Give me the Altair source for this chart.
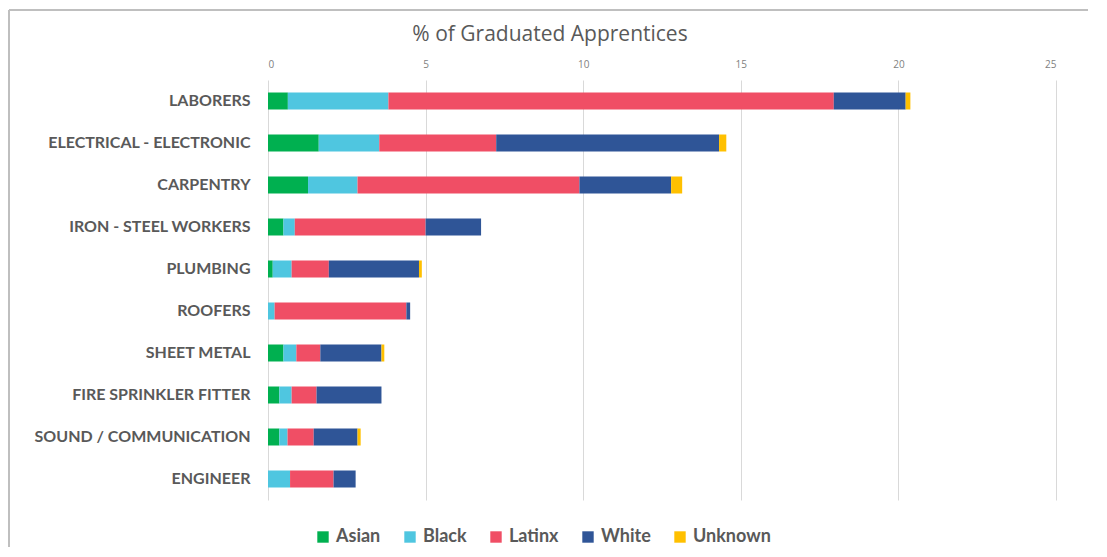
import altair as alt
import pandas as pd

trades = ["LABORERS", "ELECTRICAL - ELECTRONIC", "CARPENTRY", "IRON - STEEL WORKERS",
          "PLUMBING", "ROOFERS", "SHEET METAL", "FIRE SPRINKLER FITTER",
          "SOUND / COMMUNICATION", "ENGINEER"]
groups = ["Asian", "Black", "Latinx", "White", "Unknown"]
colors = ["#00B050", "#4FC6E0", "#F04E65", "#2F5597", "#FFC000"]

asian   = [0.63, 1.61, 1.27, 0.49, 0.15, 0.00, 0.49, 0.36, 0.36, 0.00]
black   = [3.19, 1.92, 1.57, 0.36, 0.60, 0.21, 0.41, 0.39, 0.26, 0.70]
latinx  = [14.13, 3.71, 7.04, 4.15, 1.18, 4.18, 0.76, 0.79, 0.83, 1.38]
white   = [2.28, 7.07, 2.91, 1.76, 2.86, 0.12, 1.94, 2.06, 1.39, 0.70]
unknown = [0.15, 0.23, 0.35, 0.00, 0.09, 0.00, 0.09, 0.00, 0.10, 0.00]

series = {"Asian": asian, "Black": black, "Latinx": latinx, "White": white, "Unknown": unknown}
rows = []
for g in groups:
    for t, v in zip(trades, series[g]):
        rows.append({"Trade": t, "Group": g, "Value": v, "Order": groups.index(g)})
df = pd.DataFrame(rows)

bars = alt.Chart(df).mark_bar(size=17).encode(
    y=alt.Y("Trade:N", sort=trades, title=None,
            axis=alt.Axis(labelFont="Lato", labelFontWeight="bold", labelFontSize=16,
                          labelColor="#595959", labelPadding=18, ticks=False, domain=False,
                          labelLimit=400)),
    x=alt.X("Value:Q", stack="zero", title=None,
            scale=alt.Scale(domain=[0, 25], nice=False),
            axis=alt.Axis(orient="top", values=[0, 5, 10, 15, 20, 25], labelFont="Open Sans",
                          labelFontSize=10, labelColor="#7F7F7F", labelPadding=11,
                          ticks=False, domain=False, gridColor="#D9D9D9", gridWidth=1)),
    color=alt.Color("Group:N", sort=groups,
                    scale=alt.Scale(domain=groups, range=colors),
                    legend=alt.Legend(title=None, orient="none", direction="horizontal",
                                      legendX=46, legendY=448, symbolType="square",
                                      symbolSize=130, symbolStrokeWidth=0,
                                      labelFont="Lato", labelFontWeight="bold",
                                      labelFontSize=18, labelColor="#595959",
                                      columnPadding=20, symbolOpacity=1)),
    order=alt.Order("Order:Q"),
)

top_border = alt.Chart(df).mark_rule(color="#BFBFBF", strokeWidth=2, clip=False).encode(
    x=alt.value(-259), x2=alt.value(820), y=alt.value(-70)
)
left_border = alt.Chart(df).mark_rule(color="#BFBFBF", strokeWidth=2, clip=False).encode(
    x=alt.value(-259), y=alt.value(-70), y2=alt.value(470)
)

chart = alt.layer(bars, top_border, left_border).properties(
    width=788, height=420,
    title=alt.TitleParams("% of Graduated Apprentices", font="Open Sans", fontSize=21,
                          fontWeight="normal", color="#595959", dx=-112, offset=-36),
    autosize=alt.AutoSizeParams(type="none"),
    padding={"left": 260, "top": 72, "right": 32, "bottom": 47},
    background="white",
).configure_view(stroke=None)

chart.save("out.html", embed_options={"renderer": "svg", "actions": False})
